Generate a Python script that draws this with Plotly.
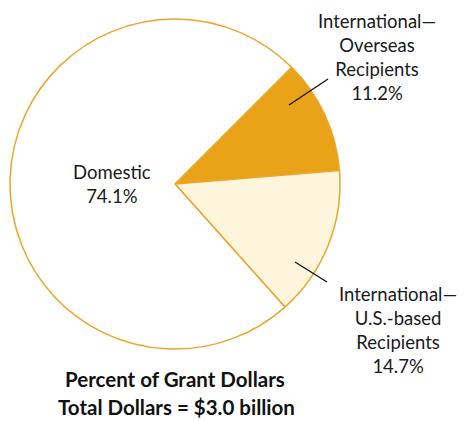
import plotly.graph_objects as go

labels = ["International—Overseas Recipients", "International—U.S.-based Recipients", "Domestic"]
values = [11.2, 14.7, 74.1]
colors = ["#E9A319", "#FEF6DC", "#FFFFFF"]
label_texts = [
    "International—<br>Overseas<br>Recipients<br>11.2%",
    "International—<br>U.S.-based<br>Recipients<br>14.7%",
    "Domestic<br>74.1%",
]

W, H = 467, 421
cx, cy, r = 175, 184, 165

def px(x):
    return x / W

def py(y):
    return 1 - y / H

fig = go.Figure(go.Pie(
    labels=labels, values=values, sort=False, direction="clockwise", rotation=45,
    marker=dict(colors=colors, line=dict(color="#EBA52A", width=1.5)),
    textinfo="none", hoverinfo="label+percent", showlegend=False,
    domain=dict(x=[px(cx - r), px(cx + r)], y=[py(cy + r), py(cy - r)]),
))

font = dict(family="Lato, Open Sans, sans-serif", size=18.5, color="#1a1a1a")
ann_pos = [(377, 57), (398, 330), (112, 184)]
for t, (x, y) in zip(label_texts, ann_pos):
    fig.add_annotation(x=px(x), y=py(y), xref="paper", yref="paper", text=t,
                       showarrow=False, font=font, align="center",
                       xanchor="center", yanchor="middle")

# leader lines
for (x0, y0, x1, y1) in [(289, 105, 328, 79), (295, 262, 327, 282)]:
    fig.add_shape(type="line", xref="paper", yref="paper",
                  x0=px(x0), y0=py(y0), x1=px(x1), y1=py(y1),
                  line=dict(color="#111111", width=1.3))

bold = dict(family="Lato, Open Sans, sans-serif", size=20.5, color="#111111")
fig.add_annotation(x=px(175), y=py(379), xref="paper", yref="paper",
                   text="<b>Percent of Grant Dollars</b>", showarrow=False,
                   font=bold, xanchor="center", yanchor="middle", borderpad=0)
fig.add_annotation(x=px(176), y=py(407), xref="paper", yref="paper",
                   text="<b>Total Dollars = $3.0 billion</b>", showarrow=False,
                   font=bold, xanchor="center", yanchor="middle", borderpad=0)

fig.update_layout(width=W, height=H, margin=dict(l=0, r=0, t=0, b=0),
                  paper_bgcolor="white", plot_bgcolor="white")
fig.write_html("out.html", config={"displayModeBar": False},
               post_script="document.body.style.margin='0';document.body.style.overflow='hidden';")
